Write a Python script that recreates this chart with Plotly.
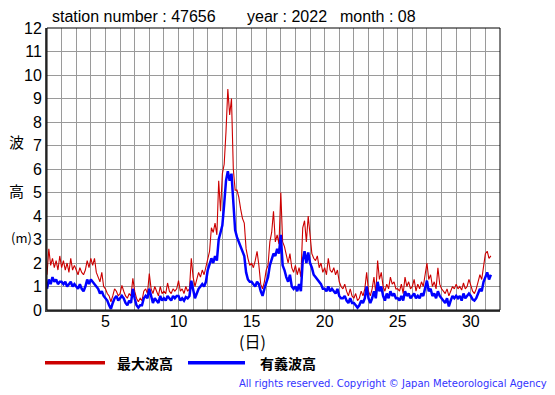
import numpy as np
import plotly.graph_objects as go

# 3-hourly readings starting 2022-08-01 00:00 (x = day of month)
max_wave = [
    1.5, 2.6, 1.9, 2.2, 1.8, 2.1, 1.7, 2.3,   # 1
    1.8, 2.1, 1.7, 2.0, 1.6, 2.2, 1.7, 1.9,   # 2
    1.7, 1.5, 1.8, 1.6, 1.5, 1.7, 2.1, 1.8,   # 3
    2.2, 1.9, 2.2, 1.6, 1.4, 1.2, 1.6, 1.0,   # 4
    0.9, 0.7, 0.6, 0.35, 0.6, 0.9, 0.8, 0.6,  # 5
    0.7, 1.05, 0.8, 0.6, 0.5, 0.7, 0.6, 1.35, # 6
    0.8, 0.5, 0.35, 0.5, 0.4, 0.8, 0.9, 0.7,  # 7
    1.55, 0.9, 0.7, 1.0, 0.8, 0.6, 1.0, 0.7,  # 8
    0.8, 0.7, 1.15, 0.8, 0.7, 0.9, 0.8, 0.9,  # 9
    1.25, 0.8, 0.9, 0.7, 1.0, 0.8, 0.9, 2.2,  # 10
    1.4, 1.0, 1.3, 1.6, 1.4, 1.7, 1.5, 1.8,   # 11
    2.1, 2.5, 3.5, 3.3, 3.7, 3.2, 5.5, 4.2,   # 12
    5.8, 6.2, 7.6, 9.4, 8.3, 9.0, 6.0, 5.1,   # 13
    5.1, 4.8, 4.3, 3.9, 3.7, 2.6, 2.2, 1.9,   # 14
    2.0, 1.8, 2.1, 2.5, 1.9, 1.1, 0.9, 1.2,   # 15
    1.7, 1.9, 2.9, 3.3, 4.2, 2.9, 3.2, 2.8,   # 16
    5.0, 2.9, 2.7, 2.3, 2.0, 2.4, 1.8, 1.6,   # 17
    1.9, 1.5, 1.8, 1.4, 3.5, 3.8, 2.9, 4.0,   # 18
    3.0, 2.4, 2.2, 2.1, 2.3, 1.8, 2.0, 1.6,   # 19
    1.8, 1.5, 2.2, 1.7, 1.6, 1.8, 1.5, 1.7,   # 20
    1.2, 1.0, 0.9, 1.1, 0.8, 0.6, 0.9, 0.6,   # 21
    0.5, 0.7, 0.4, 0.5, 0.8, 0.6, 0.9, 1.6,   # 22
    0.8, 0.6, 0.9, 1.4, 0.7, 2.1, 1.3, 1.6,   # 23
    1.0, 0.8, 1.1, 0.9, 1.4, 1.1, 1.2, 0.9,   # 24
    0.9, 0.8, 1.1, 0.7, 1.4, 1.0, 1.2, 0.9,   # 25
    1.0, 1.3, 0.8, 1.1, 0.9, 1.2, 1.0, 1.5,   # 26
    2.0, 1.3, 1.5, 1.0, 1.2, 0.9, 1.8, 1.1,   # 27
    0.9, 0.8, 0.7, 0.9, 0.6, 0.8, 1.0, 0.9,   # 28
    1.1, 0.9, 1.0, 0.85, 1.15, 0.9, 1.0, 1.3, # 29
    1.0, 0.8, 0.7, 0.9, 1.2, 1.5, 1.3, 1.9,   # 30
    2.4, 2.5, 2.2, 2.3,                       # 31
]

sig_wave = [
    0.9, 1.3, 1.1, 1.4, 1.2, 1.3, 1.1, 1.2,   # 1
    1.2, 1.1, 1.2, 1.0, 1.1, 1.2, 1.0, 1.1,   # 2
    1.0, 0.9, 1.1, 0.9, 0.8, 1.0, 1.3, 1.1,   # 3
    1.3, 1.2, 1.1, 1.0, 0.9, 0.7, 0.8, 0.6,   # 4
    0.5, 0.4, 0.2, 0.05, 0.3, 0.5, 0.6, 0.4,  # 5
    0.5, 0.6, 0.5, 0.3, 0.2, 0.4, 0.3, 0.9,   # 6
    0.5, 0.2, 0.1, 0.2, 0.2, 0.5, 0.6, 0.5,   # 7
    0.9, 0.6, 0.3, 0.5, 0.4, 0.3, 0.6, 0.4,   # 8
    0.5, 0.4, 0.6, 0.5, 0.4, 0.6, 0.5, 0.6,   # 9
    0.6, 0.4, 0.5, 0.4, 0.55, 0.5, 0.6, 1.25, # 10
    0.8, 0.5, 0.7, 0.9, 1.0, 1.1, 1.0, 1.2,   # 11
    1.7, 2.0, 2.2, 2.0, 2.3, 2.1, 3.0, 3.3,   # 12
    3.6, 4.5, 5.5, 5.9, 5.5, 5.8, 4.7, 3.4,   # 13
    3.1, 2.9, 2.7, 2.5, 2.3, 1.6, 1.3, 1.2,   # 14
    1.2, 1.1, 1.0, 1.2, 1.1, 0.8, 0.6, 0.9,   # 15
    1.2, 1.4, 1.9, 2.2, 2.4, 2.3, 2.6, 2.4,   # 16
    3.2, 1.9, 1.7, 1.4, 1.2, 1.5, 1.0, 0.9,   # 17
    1.0, 0.8, 1.1, 0.8, 2.1, 2.5, 2.0, 2.45,  # 18
    2.0, 1.8, 1.5, 1.4, 1.3, 1.2, 1.1, 0.9,   # 19
    0.9, 0.8, 1.0, 0.8, 0.9, 0.8, 0.7, 0.9,   # 20
    0.6, 0.5, 0.5, 0.6, 0.4, 0.3, 0.5, 0.3,   # 21
    0.3, 0.2, 0.1, 0.2, 0.4, 0.3, 0.5, 1.0,   # 22
    0.5, 0.3, 0.5, 0.8, 0.5, 1.2, 0.8, 1.0,   # 23
    0.6, 0.4, 0.7, 0.5, 0.8, 0.6, 0.7, 0.5,   # 24
    0.5, 0.4, 0.6, 0.4, 0.8, 0.6, 0.7, 0.5,   # 25
    0.6, 0.7, 0.5, 0.6, 0.5, 0.7, 0.6, 0.9,   # 26
    1.25, 0.8, 0.9, 0.6, 0.7, 0.5, 0.8, 0.6,  # 27
    0.5, 0.4, 0.3, 0.5, 0.15, 0.4, 0.6, 0.5,  # 28
    0.6, 0.5, 0.6, 0.4, 0.7, 0.5, 0.6, 0.7,   # 29
    0.6, 0.45, 0.4, 0.5, 0.7, 0.9, 0.8, 1.2,  # 30
    1.4, 1.6, 1.3, 1.5,                       # 31
]

x_ticks = [5, 10, 15, 20, 25, 30]
y_ticks = list(range(0, 13))
series_names = ["最大波高", "有義波高"]
series_colors = ["#cc0000", "#0000ff"]

hours = np.arange(len(max_wave)) * 3
days = 1 + hours / 24.0

FONT = "Liberation Sans, Arial, sans-serif"
CJK = "Noto Sans CJK JP"

fig = go.Figure()
fig.add_trace(go.Scatter(x=days, y=max_wave, mode="lines", name=series_names[0],
                         line=dict(color=series_colors[0], width=1.1)))
fig.add_trace(go.Scatter(x=days, y=sig_wave, mode="lines", name=series_names[1],
                         line=dict(color=series_colors[1], width=2.5)))

# page body has an 8px default margin; compensate so the figure fills the window
OFF = 8
W, H = 555 - OFF, 395 - OFF
L, T = 47 - OFF, 26 - OFF
R = 555 - 500
B = 395 - 310
pw, ph = 500 - 47, 310 - 26

def px(xw):  # window pixel -> paper x
    return (xw - 47) / pw

def py(yw):  # window pixel -> paper y
    return (310 - yw) / ph

fig.update_layout(
    width=W, height=H,
    margin=dict(l=L, r=R, t=T, b=B),
    paper_bgcolor="white", plot_bgcolor="white",
    showlegend=False,
    font=dict(family=FONT, size=15, color="black"),
)
fig.update_xaxes(
    range=[1, 32], tickmode="array", tickvals=x_ticks, ticks="",
    showgrid=True, gridcolor="#9a9a9a", gridwidth=1,
    minor=dict(dtick=1, tick0=1, showgrid=True, gridcolor="#9a9a9a", gridwidth=1),
    showline=True, linecolor="#444", linewidth=2,
    tickfont=dict(family=FONT, size=16), zeroline=False,
    ticklabelstandoff=-4,
)
fig.update_yaxes(
    range=[0, 12], tickmode="array", tickvals=y_ticks, ticks="",
    showgrid=True, gridcolor="#9a9a9a", gridwidth=1,
    showline=True, linecolor="#444", linewidth=2,
    tickfont=dict(family=FONT, size=16), zeroline=False,
)
fig.add_shape(type="rect", xref="paper", yref="paper", x0=0, x1=1, y0=0, y1=1,
              line=dict(color="black", width=1), layer="above")

for txt, xw in [("station number : 47656", 50), ("year : 2022", 245), ("month : 08", 338)]:
    fig.add_annotation(text=txt, x=px(xw), y=py(14), xref="paper", yref="paper",
                       xanchor="left", yanchor="middle", showarrow=False,
                       font=dict(family=FONT, size=16))

for txt, yy in [("波", 140), ("高", 190)]:
    fig.add_annotation(text=txt, xref="paper", yref="paper", x=px(16), y=py(yy),
                       xanchor="center", yanchor="middle", showarrow=False,
                       font=dict(family=CJK, size=15))
fig.add_annotation(text="(m)", xref="paper", yref="paper", x=px(9), y=py(237),
                   xanchor="left", yanchor="middle", showarrow=False,
                   font=dict(family=CJK, size=13))

fig.add_annotation(text="(日)", xref="paper", yref="paper", x=px(252), y=py(341),
                   xanchor="center", yanchor="middle", showarrow=False,
                   font=dict(family=CJK, size=16))

for (x0, x1, tx), nm, col in zip([(45, 105, 115), (188, 245, 258)], series_names, series_colors):
    fig.add_shape(type="line", xref="paper", yref="paper", x0=px(x0), x1=px(x1),
                  y0=py(363), y1=py(363), line=dict(color=col, width=3.5))
    fig.add_annotation(text="<b>" + nm + "</b>", xref="paper", yref="paper", x=px(tx), y=py(363),
                       xanchor="left", yanchor="middle", showarrow=False,
                       font=dict(family=CJK, size=14))

fig.add_annotation(text="All rights reserved. Copyright © Japan Meteorological Agency",
                   xref="paper", yref="paper", x=px(549), y=py(384),
                   xanchor="right", yanchor="middle", showarrow=False,
                   font=dict(family="DejaVu Sans, sans-serif", size=10, color="#3333ff"))

fig.write_html("out.html")
